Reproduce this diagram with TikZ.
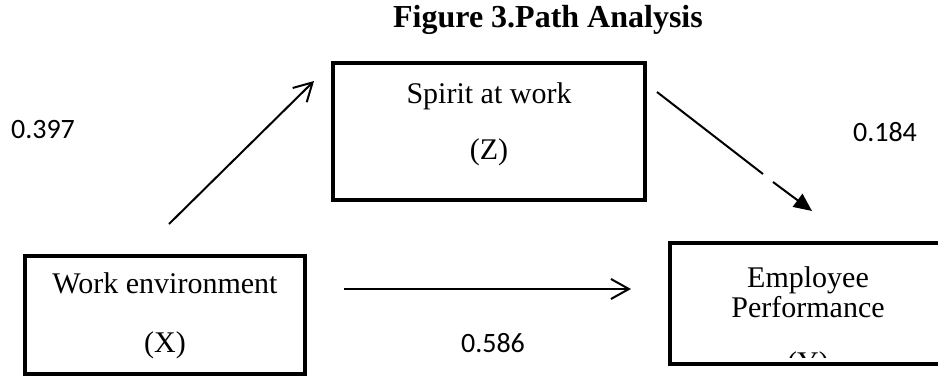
\documentclass[tikz,border=0pt]{standalone}
\usepackage{fontspec}
\setmainfont{Liberation Serif}
\newfontfamily\numfont{Carlito}
\usetikzlibrary{arrows.meta}
\begin{document}
\begin{tikzpicture}[x=0.5pt,y=-0.5pt,
  box/.style={draw, line width=2.3pt, inner sep=0pt, fill=white},
  boxtext/.style={font=\fontsize{15}{18}\selectfont, inner sep=0pt},
  coef/.style={font=\numfont\fontsize{14}{17}\selectfont, inner sep=0pt},
  titletext/.style={font=\bfseries\fontsize{16}{19}\selectfont, inner sep=0pt},
  conn/.style={line width=1pt},
  openhead/.style={-{Straight Barb[length=9pt,width=10pt,line width=1pt]}},
  fillhead/.style={-{Triangle[length=9pt,width=8pt]}}]
\useasboundingbox (0,0) rectangle (938,376);
\begin{scope}
\clip (0,0) rectangle (938,376);
% boxes
\node[box, minimum width=140pt, minimum height=59pt] (X) at (165,315) {};
\node[box, minimum width=156pt, minimum height=68.5pt] (Z) at (489,131.5) {};
\node[box, minimum width=138pt, minimum height=60.5pt] (Y) at (808,303.5) {};
% box texts
\node[boxtext] (xt1) at (165,283) {Work environment};
\node[boxtext] (xt2) at (165,345) {(X)};
\node[boxtext] (zt1) at (489,96) {Spirit at work};
\node[boxtext] (zt2) at (489,152) {(Z)};
\node[boxtext] (yt1) at (808,280) {Employee};
\node[boxtext] (yt2) at (808,307) {Performance};
\begin{scope}
\clip (600,0) rectangle (938,357);
\node[boxtext] (yt3) at (808,365) {(Y)};
\end{scope}
\end{scope}
% title
\node[titletext] (title) at (548,20) {Figure 3.Path Analysis};
% coefficients
\node[coef] (c1) at (43,130) {0.397};
\node[coef] (c2) at (885,132) {0.184};
\node[coef] (c3) at (493,343) {0.586};
% arrows
\coordinate (a1s) at (169,224);
\coordinate (a1e) at (314,81);
\draw[conn, openhead] (a1s) -- (a1e);
\coordinate (a2s) at (344,289);
\coordinate (a2e) at (631,289);
\draw[conn, openhead] (a2s) -- (a2e);
\coordinate (a3s) at (657,92);
\coordinate (g1) at (763,174);
\coordinate (g2) at (773,182);
\coordinate (a3e) at (812,211);
\draw[conn] (a3s) -- (g1);
\draw[conn, fillhead] (g2) -- (a3e);
\end{tikzpicture}
\end{document}
